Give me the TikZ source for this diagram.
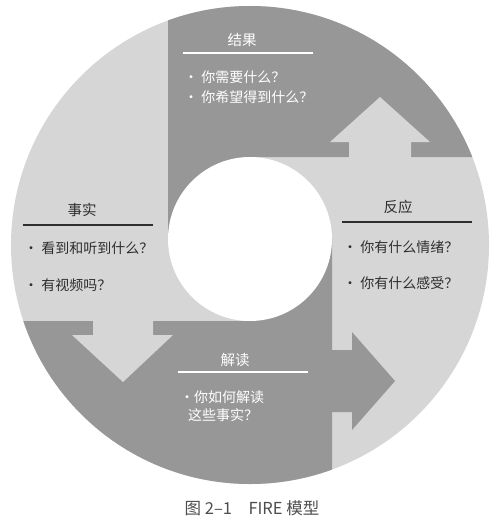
\documentclass[tikz,border=0pt]{standalone}
\usepackage{fontspec}
\usepackage{xcolor}
\usepackage{tikz}
\newfontfamily\cjk{Noto Sans CJK SC}
\definecolor{ringlight}{HTML}{D6D6D6}
\definecolor{ringdark}{HTML}{979797}
\definecolor{ink}{HTML}{2E2E2E}
\tikzset{
  txt/.style={font=\cjk\fontsize{14}{16}\selectfont,inner sep=0pt,anchor=west},
  head/.style={font=\cjk\fontsize{14.5}{16}\selectfont,inner sep=0pt},
  rule/.style={line width=1.1pt}
}

\begin{document}
\begin{tikzpicture}[x=1pt,y=-1pt]
\useasboundingbox (0,0) rectangle (498,532);

\begin{scope}
\clip (250,245) circle[radius=239pt];
\fill[ringlight] (0,0) rectangle (498,532);
% the two dark quarters of the pinwheel
\fill[ringdark] (168,0)--++(330,0)--++(0,157)--++(-248,0)--++(0,82)--++(-82,0)--cycle;
\fill[ringdark] (0,532)--++(0,-211)--++(250,0)--++(0,-82)--++(82,0)--++(0,293)--cycle;

% arrows
\fill[ringlight] (349,160)--++(0,-18)--++(-19,0)--++(50,-45)--++(50,45)--++(-19,0)--++(0,18)--cycle;
\fill[ringdark] (330,350)--++(22,0)--++(0,-18)--++(43,49)--++(-43,49)--++(0,-18)--++(-22,0)--cycle;
\fill[ringlight] (93,319)--++(0,16)--++(-21,0)--++(51,47)--++(50,-47)--++(-20,0)--++(0,-16)--cycle;
\end{scope}
\fill[white] (250,239) circle[radius=82pt];

% results
\node[head,white] (res) at (242,40) {结果};
\draw[rule,white] (183,53)--(313,53);
\node[txt,white] (resa) at (184,77) {• 你需要什么？};
\node[txt,white] (resb) at (184,97) {• 你希望得到什么？};

% facts
\node[head,ink] (fac) at (82,210) {事实};
\draw[rule,ink] (23,225)--(153,225);
\node[txt,ink] (faca) at (24,248) {• 看到和听到什么？};
\node[txt,ink] (facb) at (24,285) {• 有视频吗？};

% reaction
\node[head,ink] (rea) at (398,207) {反应};
\draw[rule,ink] (342,222)--(472,222);
\node[txt,ink] (reaa) at (343,247) {• 你有什么情绪？};
\node[txt,ink] (reab) at (343,283) {• 你有什么感受？};

% interpretation
\node[head,white] (int) at (235,360) {解读};
\draw[rule,white] (178,372)--(308,372);
\node[txt,white] (inta) at (180,397) {•你如何解读};
\node[txt,white] (intb) at (188,415) {这些事实？};

\node[font=\cjk\fontsize{16.5}{18}\selectfont,text=ink!85,inner sep=0pt] (cap) at (252,508) {图 2–1\quad FIRE 模型};
\end{tikzpicture}
\end{document}
